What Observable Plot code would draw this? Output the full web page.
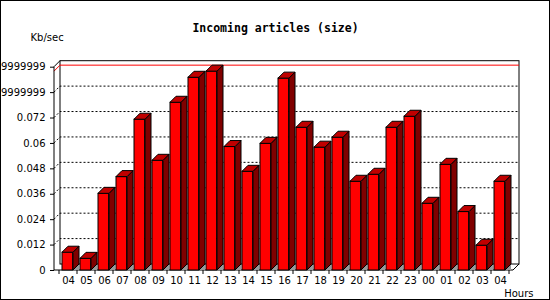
<!DOCTYPE html>
<html>
<head>
<meta charset="utf-8">
<script src="https://cdn.jsdelivr.net/npm/d3@7"></script>
<script src="https://cdn.jsdelivr.net/npm/@observablehq/plot@0.6"></script>
<style>
  html, body { margin: 0; padding: 0; background: #fff; }
  #chart svg { display: block; outline: 1px solid #000; outline-offset: -1px; }
</style>
</head>
<body>
<div id="chart"></div>
<script>
// ---- data ----
const hours = ["04","05","06","07","08","09","10","11","12","13","14","15","16","17","18","19","20","21","22","23","00","01","02","03","04"];
const kbps  = [0.0084,0.0055,0.0362,0.0441,0.0712,0.0518,0.0792,0.0910,0.0939,0.0583,0.0466,0.0598,0.0906,0.0674,0.0580,0.0627,0.0419,0.0452,0.0674,0.0726,0.0315,0.0499,0.0276,0.0117,0.0419];
const yTicks = [0,0.012,0.024,0.036,0.048,0.06,0.072,0.084,0.096];
const yTickLabels = ["0","0.012","0.024","0.036","0.048","0.06","0.072","0.08399999999","0.09599999999"];
const yMax = 0.096;
const title = "Incoming articles (size)";
const yLabel = "Kb/sec";
const xLabel = "Hours";

const data = hours.map((h, i) => ({i, hour: h, value: kbps[i]}));

// ---- layout / style ----
const W = 550, H = 300;
const mL = 54, mR = 37, mT = 66.7, mB = 30;
const D = 6;               // 3D depth offset
const insetL = 3, barW = 11;
const bw = (W - mL - mR) / hours.length;
const path = pts => "M" + pts.map(p => p[0] + "," + p[1]).join("L");

function walls(index, scales, values, dims) {
  const {x, y} = scales;
  const x0 = dims.marginLeft, x1 = dims.width - dims.marginRight;
  const y0 = y(0), yT = y(yMax);
  const g = d3.create("svg:g");
  g.append("rect").attr("x", x0 + D).attr("y", yT - D)
    .attr("width", x1 - x0).attr("height", y0 - yT)
    .attr("fill", "#fff").attr("stroke", "#000");
  for (const t of yTicks) {
    if (t <= 0 || t >= yMax) continue;
    g.append("path").attr("d", path([[x0, y(t)], [x0 + D, y(t) - D], [x1 + D, y(t) - D]]))
      .attr("fill", "none").attr("stroke", "#000").attr("stroke-dasharray", "2,2");
  }
  const m = d3.max(kbps);
  g.append("path").attr("d", path([[x0, y(m)], [x0 + D, y(m) - D], [x1 + D, y(m) - D]]))
    .attr("fill", "none").attr("stroke", "#f00");
  g.append("path").attr("d", path([[x0 + D, yT - D], [x0, yT], [x0, y0], [x1, y0], [x1 + D, y0 - D]]))
    .attr("fill", "none").attr("stroke", "#000");
  const b = x.bandwidth ? x.bandwidth() : bw;
  for (let i = 0; i <= hours.length; ++i) {
    const xx = i < hours.length ? x(i) : x(hours.length - 1) + b;
    g.append("path").attr("d", path([[xx, y0], [xx, y0 + 4]])).attr("stroke", "#000");
  }
  return g.node();
}

function sides(index, scales, values, dims) {
  const {x, y} = scales;
  const y0 = y(0);
  const g = d3.create("svg:g").attr("stroke", "#000");
  for (const d of data) {
    const xl = x(d.i) + insetL, xr = xl + barW, yt = y(d.value);
    g.append("path").attr("d", path([[xr, y0], [xr + D, y0 - D], [xr + D, y0]]) + "Z")
      .attr("fill", "#999").attr("stroke", "none");
    g.append("path").attr("d", path([[xr, yt], [xr + D, yt - D], [xr + D, y0 - D], [xr, y0]]) + "Z")
      .attr("fill", "#800000");
    g.append("path").attr("d", path([[xl, yt], [xl + D, yt - D], [xr + D, yt - D], [xr, yt]]) + "Z")
      .attr("fill", "#c00000");
  }
  return g.node();
}

const chart = Plot.plot({
  width: W, height: H,
  marginLeft: mL, marginRight: mR, marginTop: mT, marginBottom: mB,
  style: {fontFamily: "DejaVu Sans", fontSize: "10px", background: "#fff", color: "#000"},
  x: {type: "band", domain: d3.range(hours.length), padding: 0, tickFormat: i => hours[i], tickSize: 0, tickPadding: 6, label: null},
  y: {domain: [0, yMax], ticks: yTicks, tickFormat: v => yTickLabels[yTicks.indexOf(v)], tickSize: 4, tickPadding: 5, label: null},
  marks: [
    walls,
    Plot.barY(data, {x: "i", y: "value", fill: "#f00", stroke: "#000", strokeWidth: 1, insetLeft: insetL, insetRight: bw - insetL - barW}),
    sides,
    Plot.text([title], {frameAnchor: "top", text: d => d, dx: 275 - (mL + (W - mL - mR) / 2), dy: 31.5 - mT, lineAnchor: "bottom",
      fontFamily: "DejaVu Sans Mono", fontWeight: "bold", fontSize: 11.5}),
    Plot.text([yLabel], {frameAnchor: "top-left", text: d => d, dx: 30 - mL, dy: 40.7 - mT, lineAnchor: "bottom", textAnchor: "start", fontSize: 10}),
    Plot.text([xLabel], {frameAnchor: "bottom-right", text: d => d, dx: 533 - (W - mR), dy: 296 - (H - mB), lineAnchor: "bottom", textAnchor: "end", fontSize: 10})
  ]
});
document.getElementById("chart").appendChild(chart);
</script>
</body>
</html>
